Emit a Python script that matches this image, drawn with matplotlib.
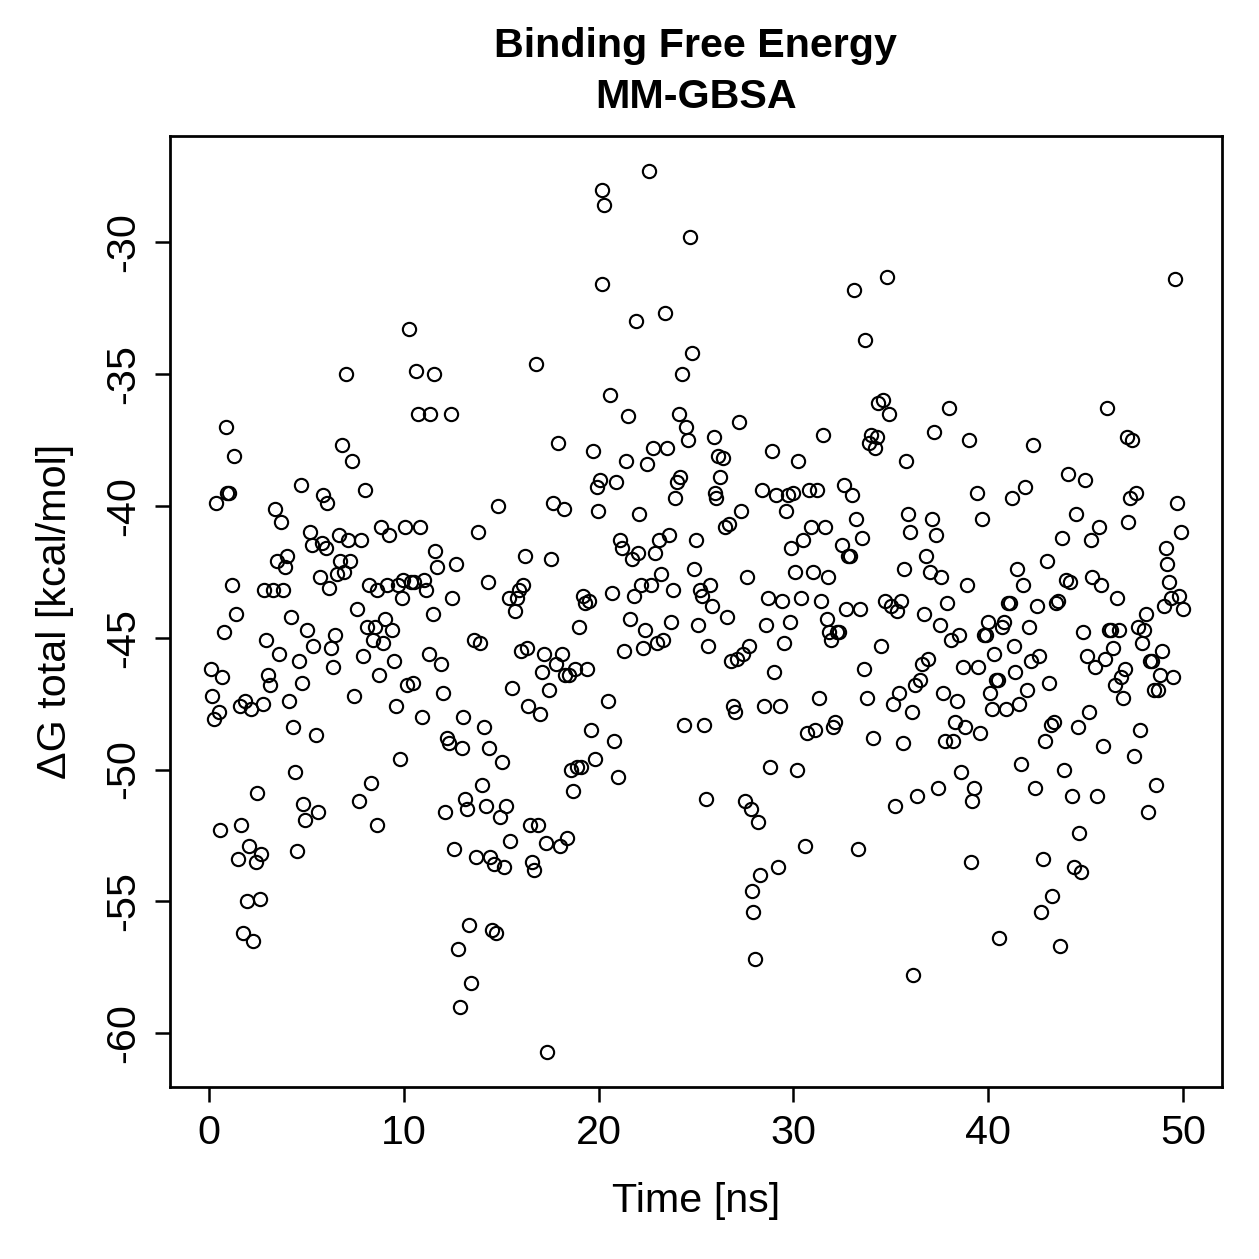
import numpy as np
import matplotlib
matplotlib.use('Agg')
import matplotlib.pyplot as plt

plt.rcParams['font.family'] = ['Liberation Sans', 'DejaVu Sans']

# tiempo [ns] y energia libre de union [kcal/mol]
time_ns = [
    0.1, 0.15, 0.25, 0.35, 0.5, 0.55, 0.65, 0.75, 0.85, 0.95, 1.05, 1.2, 1.3, 1.4, 1.5, 1.6, 1.65, 1.75, 1.85, 1.95,
    2.05, 2.15, 2.25, 2.4, 2.45, 2.6, 2.65, 2.75, 2.85, 2.95, 3.05, 3.15, 3.3, 3.4, 3.5, 3.6, 3.7, 3.8, 3.9, 4.0,
    4.1, 4.2, 4.3, 4.4, 4.5, 4.6, 4.7, 4.75, 4.85, 4.95, 5.05, 5.2, 5.3, 5.35, 5.5, 5.6, 5.7, 5.8, 5.85, 6.0,
    6.05, 6.15, 6.25, 6.35, 6.45, 6.55, 6.65, 6.75, 6.85, 6.95, 7.05, 7.15, 7.25, 7.35, 7.45, 7.6, 7.7, 7.8, 7.9, 8.0,
    8.1, 8.2, 8.3, 8.4, 8.5, 8.6, 8.65, 8.75, 8.85, 8.95, 9.05, 9.15, 9.25, 9.4, 9.5, 9.6, 9.7, 9.8, 9.9, 9.95,
    10.05, 10.15, 10.25, 10.35, 10.45, 10.55, 10.65, 10.75, 10.85, 10.95, 11.05, 11.15, 11.3, 11.35, 11.5, 11.55, 11.6, 11.7, 11.9, 12.0,
    12.1, 12.2, 12.3, 12.4, 12.5, 12.6, 12.7, 12.8, 12.9, 13.0, 13.05, 13.15, 13.25, 13.35, 13.45, 13.6, 13.7, 13.8, 13.9, 14.0,
    14.1, 14.2, 14.3, 14.4, 14.45, 14.55, 14.65, 14.75, 14.85, 14.95, 15.05, 15.15, 15.25, 15.4, 15.45, 15.55, 15.7, 15.8, 15.9, 16.0,
    16.1, 16.2, 16.3, 16.4, 16.5, 16.6, 16.7, 16.8, 16.9, 17.0, 17.1, 17.2, 17.3, 17.35, 17.45, 17.55, 17.65, 17.8, 17.9, 18.0,
    18.1, 18.2, 18.3, 18.4, 18.5, 18.6, 18.7, 18.8, 18.9, 19.0, 19.1, 19.2, 19.3, 19.4, 19.5, 19.6, 19.7, 19.8, 19.9, 19.95,
    20.05, 20.15, 20.2, 20.3, 20.5, 20.6, 20.7, 20.8, 20.9, 21.0, 21.1, 21.2, 21.3, 21.4, 21.5, 21.6, 21.7, 21.8, 21.9, 22.0,
    22.05, 22.2, 22.3, 22.4, 22.5, 22.6, 22.7, 22.8, 22.9, 23.0, 23.1, 23.2, 23.3, 23.4, 23.5, 23.6, 23.7, 23.8, 23.9, 24.0,
    24.15, 24.2, 24.3, 24.4, 24.5, 24.6, 24.7, 24.8, 24.9, 25.0, 25.1, 25.2, 25.3, 25.4, 25.5, 25.6, 25.7, 25.8, 25.9, 26.0,
    26.05, 26.15, 26.25, 26.4, 26.5, 26.6, 26.7, 26.8, 26.9, 27.0, 27.1, 27.2, 27.3, 27.4, 27.5, 27.6, 27.7, 27.8, 27.9, 27.95,
    28.05, 28.2, 28.3, 28.4, 28.5, 28.6, 28.7, 28.8, 28.9, 29.0, 29.1, 29.2, 29.3, 29.4, 29.5, 29.6, 29.7, 29.8, 29.9, 30.0,
    30.1, 30.2, 30.25, 30.4, 30.5, 30.6, 30.7, 30.8, 30.9, 31.0, 31.1, 31.2, 31.3, 31.4, 31.5, 31.6, 31.7, 31.75, 31.85, 31.95,
    32.05, 32.15, 32.25, 32.35, 32.5, 32.6, 32.7, 32.8, 32.9, 33.0, 33.1, 33.2, 33.3, 33.4, 33.5, 33.6, 33.7, 33.8, 33.9, 34.0,
    34.1, 34.2, 34.3, 34.35, 34.5, 34.6, 34.7, 34.8, 34.9, 35.0, 35.1, 35.2, 35.3, 35.4, 35.5, 35.6, 35.7, 35.8, 35.9, 36.0,
    36.1, 36.15, 36.25, 36.35, 36.5, 36.6, 36.7, 36.8, 36.9, 37.0, 37.1, 37.2, 37.3, 37.4, 37.5, 37.6, 37.7, 37.8, 37.9, 38.0,
    38.1, 38.2, 38.3, 38.4, 38.5, 38.6, 38.7, 38.8, 38.9, 39.0, 39.1, 39.15, 39.25, 39.4, 39.5, 39.6, 39.7, 39.8, 39.9, 40.0,
    40.1, 40.2, 40.3, 40.4, 40.5, 40.55, 40.7, 40.8, 40.9, 41.0, 41.1, 41.2, 41.3, 41.4, 41.5, 41.6, 41.7, 41.8, 41.9, 42.0,
    42.1, 42.2, 42.3, 42.4, 42.5, 42.6, 42.7, 42.8, 42.9, 43.0, 43.1, 43.2, 43.25, 43.4, 43.5, 43.6, 43.7, 43.8, 43.9, 44.0,
    44.1, 44.2, 44.3, 44.4, 44.5, 44.6, 44.65, 44.75, 44.85, 44.95, 45.05, 45.15, 45.25, 45.35, 45.5, 45.6, 45.7, 45.8, 45.9, 46.0,
    46.1, 46.2, 46.3, 46.4, 46.5, 46.6, 46.7, 46.8, 46.9, 47.0, 47.1, 47.15, 47.3, 47.4, 47.5, 47.6, 47.7, 47.8, 47.9, 48.0,
    48.1, 48.2, 48.3, 48.4, 48.5, 48.6, 48.7, 48.8, 48.9, 49.0, 49.1, 49.2, 49.3, 49.4, 49.5, 49.6, 49.7, 49.8, 49.9, 50.0,
]

dg_total = [
    -46.2, -47.2, -48.1, -39.9, -47.8, -52.3, -46.5, -44.8, -37.0, -39.5, -39.5, -43.0, -38.1, -44.1, -53.4, -47.6, -52.1, -56.2, -47.4, -55.0,
    -52.9, -47.7, -56.5, -53.5, -50.9, -54.9, -53.2, -47.5, -43.2, -45.1, -46.4, -46.8, -43.2, -40.1, -42.1, -45.6, -40.6, -43.2, -42.3, -41.9,
    -47.4, -44.2, -48.4, -50.1, -53.1, -45.9, -39.2, -46.7, -51.3, -51.9, -44.7, -41.0, -41.5, -45.3, -48.7, -51.6, -42.7, -41.4, -39.6, -41.6,
    -39.9, -43.1, -45.4, -46.1, -44.9, -42.6, -41.1, -42.1, -37.7, -42.5, -35.0, -41.3, -42.1, -38.3, -47.2, -43.9, -51.2, -41.3, -45.7, -39.4,
    -44.6, -43.0, -50.5, -45.1, -44.6, -43.2, -52.1, -46.4, -40.8, -45.2, -44.3, -43.0, -41.1, -44.7, -45.9, -47.6, -43.0, -49.6, -43.5, -42.8,
    -40.8, -46.8, -33.3, -42.9, -46.7, -42.9, -34.9, -36.5, -40.8, -48.0, -42.8, -43.2, -45.6, -36.5, -44.1, -35.0, -41.7, -42.3, -46.0, -47.1,
    -51.6, -48.8, -49.0, -36.5, -43.5, -53.0, -42.2, -56.8, -59.0, -49.2, -48.0, -51.1, -51.5, -55.9, -58.1, -45.1, -53.3, -41.0, -45.2, -50.6,
    -48.4, -51.4, -42.9, -49.2, -53.3, -56.1, -53.6, -56.2, -40.0, -51.8, -49.7, -53.7, -51.4, -43.5, -52.7, -46.9, -44.0, -43.5, -43.2, -45.5,
    -43.0, -41.9, -45.4, -47.6, -52.1, -53.5, -53.8, -34.6, -52.1, -47.9, -46.3, -45.6, -52.8, -60.7, -47.0, -42.0, -39.9, -46.0, -37.6, -52.9,
    -45.6, -40.1, -46.4, -52.6, -46.4, -50.0, -50.8, -46.2, -49.9, -44.6, -49.9, -43.4, -43.7, -46.2, -43.6, -48.5, -37.9, -49.6, -39.3, -40.2,
    -39.0, -31.6, -28.0, -28.6, -47.4, -35.8, -43.3, -48.9, -39.1, -50.3, -41.3, -41.6, -45.5, -38.3, -36.6, -44.3, -42.0, -43.4, -33.0, -41.8,
    -40.3, -43.0, -45.4, -44.7, -38.4, -27.3, -43.0, -37.8, -41.8, -45.2, -41.3, -42.6, -45.1, -32.7, -37.8, -41.1, -44.4, -43.2, -39.7, -39.1,
    -36.5, -38.9, -35.0, -48.3, -37.0, -37.5, -29.8, -34.2, -42.4, -41.3, -44.5, -43.2, -43.4, -48.3, -51.1, -45.3, -43.0, -43.8, -37.4, -39.5,
    -39.7, -38.1, -38.9, -38.2, -40.8, -44.2, -40.7, -45.9, -47.6, -47.8, -45.8, -36.8, -40.2, -45.6, -51.2, -42.7, -45.3, -51.5, -54.6, -55.4,
    -57.2, -52.0, -54.0, -39.4, -47.6, -44.5, -43.5, -49.9, -37.9, -46.3, -39.6, -53.7, -47.6, -43.6, -45.2, -40.2, -39.6, -44.4, -41.6, -39.5,
    -42.5, -50.0, -38.3, -43.5, -41.3, -52.9, -48.6, -39.4, -40.8, -42.5, -48.5, -39.4, -47.3, -43.6, -37.3, -40.8, -44.3, -42.7, -44.8, -45.1,
    -48.4, -48.2, -44.8, -44.8, -41.5, -39.2, -43.9, -41.9, -41.9, -39.6, -31.8, -40.5, -53.0, -43.9, -41.2, -46.2, -33.7, -47.3, -37.6, -37.3,
    -48.8, -37.8, -37.4, -36.1, -45.3, -36.0, -43.6, -31.3, -36.5, -43.8, -47.5, -51.4, -44.0, -47.1, -43.6, -49.0, -42.4, -38.3, -40.3, -41.0,
    -47.8, -57.8, -46.8, -51.0, -46.6, -46.0, -44.1, -41.9, -45.8, -42.5, -40.5, -37.2, -41.1, -50.7, -44.5, -42.7, -47.1, -48.9, -43.7, -36.3,
    -45.1, -48.9, -48.2, -47.4, -44.9, -50.1, -46.1, -48.4, -43.0, -37.5, -53.5, -51.2, -50.7, -39.5, -46.1, -48.6, -40.5, -44.9, -44.9, -44.4,
    -47.1, -47.7, -45.6, -46.6, -46.6, -56.4, -44.6, -44.4, -47.7, -43.7, -43.7, -39.7, -45.3, -46.3, -42.4, -47.5, -49.8, -43.0, -39.3, -47.0,
    -44.6, -45.9, -37.7, -50.7, -43.8, -45.7, -55.4, -53.4, -48.9, -42.1, -46.7, -48.3, -54.8, -48.2, -43.7, -43.6, -56.7, -41.2, -50.0, -42.8,
    -38.8, -42.9, -51.0, -53.7, -40.3, -48.4, -52.4, -53.9, -44.8, -39.0, -45.7, -47.8, -41.3, -42.7, -46.1, -51.0, -40.8, -43.0, -49.1, -45.8,
    -36.3, -44.7, -44.7, -45.4, -46.8, -43.5, -44.7, -46.5, -47.3, -46.2, -37.4, -40.6, -39.7, -37.5, -49.5, -39.5, -44.6, -48.5, -45.2, -44.7,
    -44.1, -51.6, -45.9, -45.9, -47.0, -50.6, -47.0, -46.4, -45.5, -43.8, -41.6, -42.2, -42.9, -43.5, -46.5, -31.4, -39.9, -43.4, -41.0, -43.9,
]

x_ticks = [0, 10, 20, 30, 40, 50]
y_ticks = [-60, -55, -50, -45, -40, -35, -30]

fig = plt.figure(figsize=(1259 / 180, 1259 / 180), dpi=180)
ax = fig.add_axes([170 / 1259, 1 - 1087 / 1259, (1222 - 170) / 1259, (1087 - 136) / 1259])

ax.plot(time_ns, dg_total, linestyle='none', marker='o', markersize=5.3,
        markerfacecolor='none', markeredgecolor='black', markeredgewidth=0.85)

ax.set_xlim(-2, 52)
ax.set_ylim(-62.04, -25.97)
ax.set_xticks(x_ticks)
ax.set_yticks(y_ticks)
ax.set_yticklabels([str(v) for v in y_ticks], rotation=90, va='center')
ax.tick_params(axis='both', direction='out', length=6, width=1.0, labelsize=16.5, pad=5)

for s in ax.spines.values():
    s.set_linewidth(1.1)

ax.set_xlabel('Time [ns]', fontsize=16.5, labelpad=12)
ax.set_ylabel('ΔG total [kcal/mol]', fontsize=16.5, labelpad=12)
ax.set_title('Binding Free Energy\nMM-GBSA', fontsize=16.5, fontweight='bold', pad=11, linespacing=1.45)

fig.savefig('out.png', dpi=180)
